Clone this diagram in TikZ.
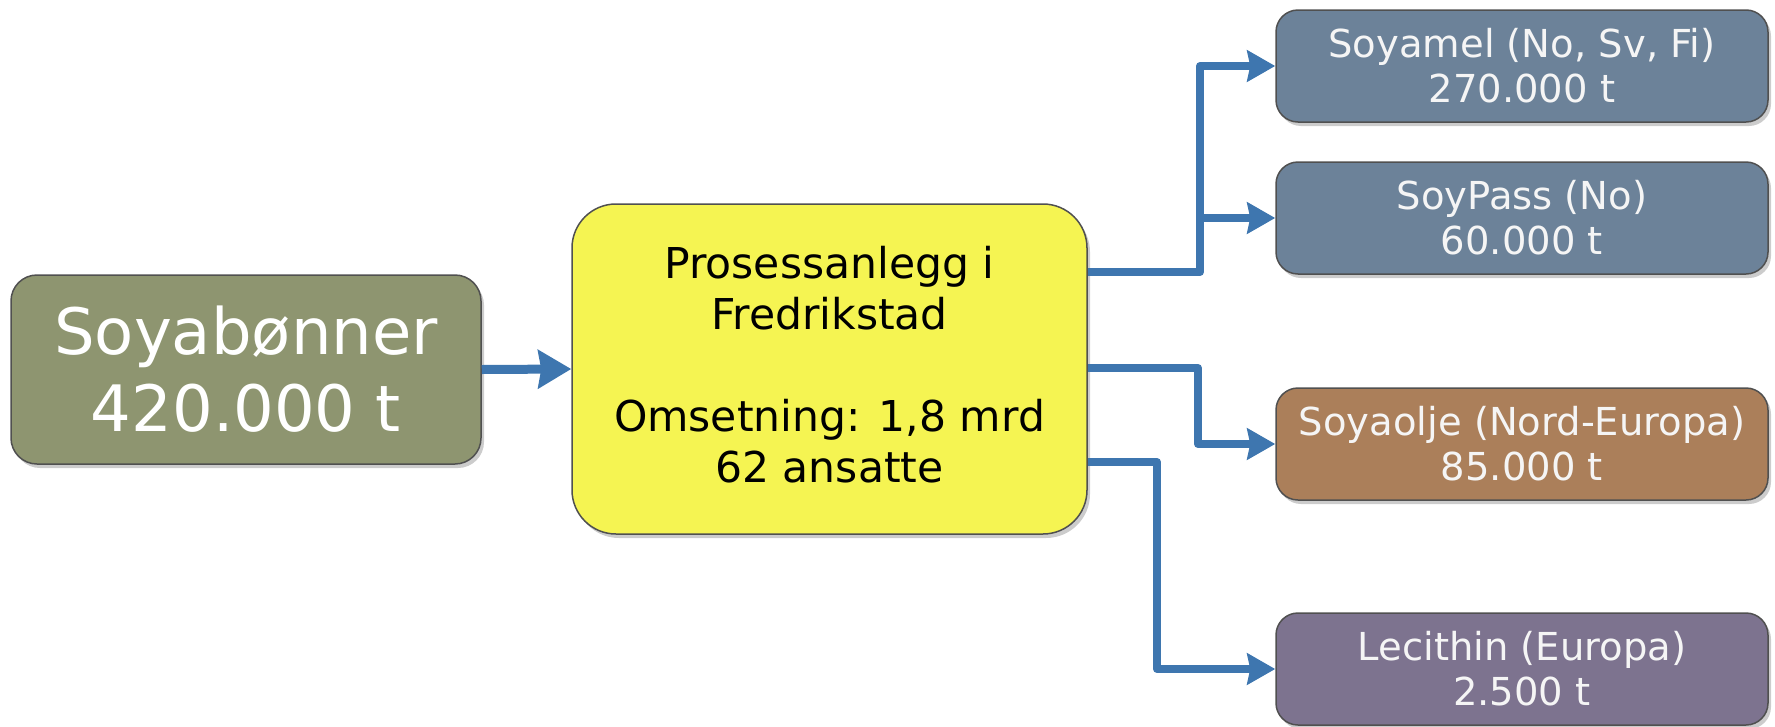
\documentclass[tikz,border=0pt]{standalone}
\usepackage{fontspec}
\setmainfont{DejaVu Sans}
\usetikzlibrary{arrows.meta,shadows}
\definecolor{flowblue}{RGB}{62,118,175}
\definecolor{boxline}{RGB}{80,80,80}
\definecolor{olivefill}{RGB}{142,149,112}
\definecolor{yellowfill}{RGB}{245,244,82}
\definecolor{slatefill}{RGB}{108,130,153}
\definecolor{brownfill}{RGB}{171,127,90}
\definecolor{purplefill}{RGB}{125,115,143}
\definecolor{softwhite}{RGB}{245,245,245}
\begin{document}
\begin{tikzpicture}[x=1pt,y=-1pt,
  box/.style={draw=boxline, line width=1.5pt, align=center, inner sep=0pt,
    drop shadow={shadow xshift=3pt, shadow yshift=-4pt, opacity=0.2, fill=black}},
  srcbox/.style={box, fill=olivefill, text=white, rounded corners=26pt,
    minimum width=470pt, minimum height=189pt,
    font=\fontsize{64}{77}\selectfont},
  plantbox/.style={box, fill=yellowfill, rounded corners=44pt,
    minimum width=515pt, minimum height=330pt},
  planttext/.style={align=center, inner sep=0pt, text=black,
    font=\fontsize{42.5}{51}\selectfont},
  prodbox/.style={box, text=softwhite, rounded corners=22pt,
    minimum width=492pt, minimum height=112pt,
    font=\fontsize{38.5}{45}\selectfont},
  flow/.style={draw=flowblue, line width=8pt, line join=round,
    -{Stealth[length=28pt,width=31pt,inset=3pt]}},
  bigflow/.style={draw=flowblue, line width=9pt,
    -{Stealth[length=33pt,width=38pt,inset=3pt]}}
]
\useasboundingbox (0,0) rectangle (1775,726);

\node[srcbox] (src) at (246,369.5) {Soyabønner\\420.000 t};
\node[plantbox] (plant) at (829.5,369) {};
\node[planttext] (plantlabel) at (829.5,365) {Prosessanlegg i\\Fredrikstad\\[51pt]Omsetning: 1,8 mrd\\62 ansatte};

\node[prodbox, fill=slatefill] (meal) at (1522,66) {Soyamel (No, Sv, Fi)\\270.000 t};
\node[prodbox, fill=slatefill] (pass) at (1522,218) {SoyPass (No)\\60.000 t};
\node[prodbox, fill=brownfill] (oil) at (1522,444) {Soyaolje (Nord-Europa)\\85.000 t};
\node[prodbox, fill=purplefill] (lec) at (1522,669) {Lecithin (Europa)\\2.500 t};

\coordinate (j1) at (1200,272);
\coordinate (j2) at (1198,368);
\coordinate (j3) at (1157,462);

\draw[bigflow] (src.east) -- (plant.west);

\draw[flow] ([yshift=97pt]plant.east) -- (j1) |- (meal.west);
\draw[flow] (j1 |- pass.west) -- (pass.west);

\draw[flow] ([yshift=1pt]plant.east) -- (j2) |- (oil.west);
\draw[flow] ([yshift=-93pt]plant.east) -- (j3) |- (lec.west);
\end{tikzpicture}
\end{document}
